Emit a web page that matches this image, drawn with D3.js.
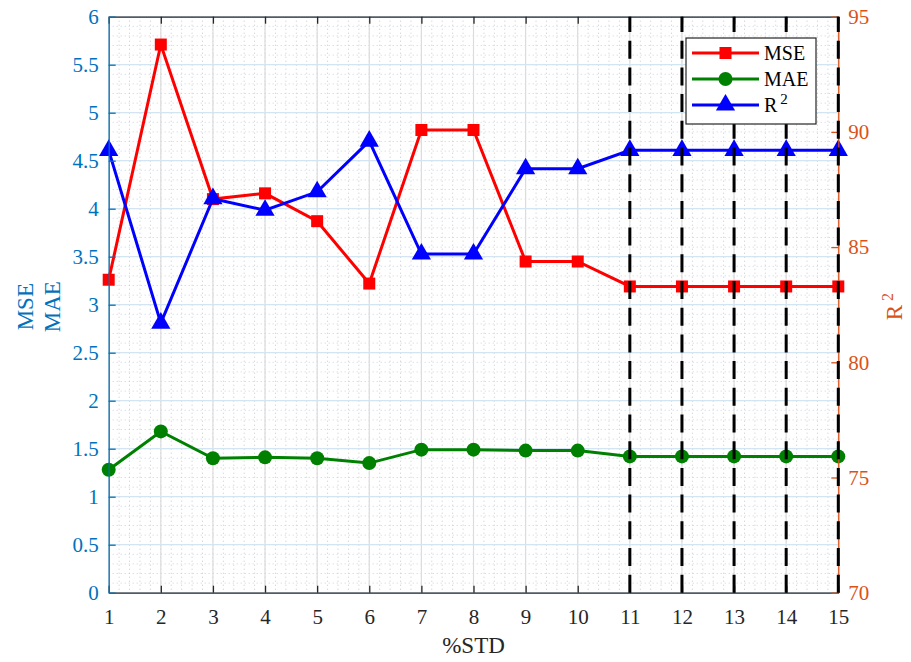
<!DOCTYPE html>
<html>
<head>
<meta charset="utf-8">
<script src="https://cdn.jsdelivr.net/npm/d3@7"></script>
<style>
  body { margin: 0; background: #fff; }
  text { font-family: "Liberation Serif", "Times New Roman", serif; }
</style>
</head>
<body>
<svg id="chart" width="911" height="662"></svg>
<script>
// data
const stdPct = [1, 2, 3, 4, 5, 6, 7, 8, 9, 10, 11, 12, 13, 14, 15];
const mse = [3.26, 5.71, 4.10, 4.16, 3.87, 3.22, 4.82, 4.82, 3.45, 3.45, 3.19, 3.19, 3.19, 3.19, 3.19];
const mae = [1.28, 1.68, 1.40, 1.41, 1.40, 1.35, 1.49, 1.49, 1.48, 1.48, 1.42, 1.42, 1.42, 1.42, 1.42];
const r2 = [89.2, 81.7, 87.1, 86.6, 87.4, 89.6, 84.7, 84.7, 88.4, 88.4, 89.2, 89.2, 89.2, 89.2, 89.2];
const dashedAt = [11, 12, 13, 14, 15];
const leftTicks = [0, 0.5, 1, 1.5, 2, 2.5, 3, 3.5, 4, 4.5, 5, 5.5, 6];
const rightTicks = [70, 75, 80, 85, 90, 95];

const leftColor = "#0072BD";
const rightColor = "#D95319";
const axisColor = "#262626";

const margin = { top: 16.7, right: 72.7, bottom: 69.3, left: 108.7 };
const width = 911 - margin.left - margin.right;
const height = 662 - margin.top - margin.bottom;

const svg = d3.select("#chart");
const g = svg.append("g")
    .attr("transform", "translate(" + margin.left + "," + margin.top + ")");

const x = d3.scaleLinear().domain([1, 15]).range([0, width]);
const yL = d3.scaleLinear().domain([0, 6]).range([height, 0]);
const yR = d3.scaleLinear().domain([70, 95]).range([height, 0]);

// minor grid (dotted)
const minorX = d3.range(1, 15.001, 0.2);
const minorY = d3.range(0, 6.001, 0.1);
g.append("g").selectAll("line")
    .data(minorX)
    .enter().append("line")
    .attr("x1", d => x(d)).attr("x2", d => x(d))
    .attr("y1", 0).attr("y2", height)
    .attr("stroke", "#c8c8c8")
    .attr("stroke-width", 1)
    .attr("stroke-dasharray", "1,3");
g.append("g").selectAll("line")
    .data(minorY)
    .enter().append("line")
    .attr("x1", 0).attr("x2", width)
    .attr("y1", d => yL(d)).attr("y2", d => yL(d))
    .attr("stroke", "#bcd6ec")
    .attr("stroke-width", 1)
    .attr("stroke-dasharray", "1,3");

// major grid
g.append("g").selectAll("line")
    .data(stdPct)
    .enter().append("line")
    .attr("x1", d => x(d)).attr("x2", d => x(d))
    .attr("y1", 0).attr("y2", height)
    .attr("stroke", "#dcdcdc")
    .attr("stroke-width", 1.2);
g.append("g").selectAll("line")
    .data(leftTicks)
    .enter().append("line")
    .attr("x1", 0).attr("x2", width)
    .attr("y1", d => yL(d)).attr("y2", d => yL(d))
    .attr("stroke", "#d3e5f3")
    .attr("stroke-width", 1.2);

// series lines + markers
const lineL = d3.line().x((d, i) => x(stdPct[i])).y(d => yL(d));
const lineR = d3.line().x((d, i) => x(stdPct[i])).y(d => yR(d));

g.append("path").datum(mse)
    .attr("d", lineL).attr("fill", "none")
    .attr("stroke", "#ff0000").attr("stroke-width", 3);
g.append("g").selectAll("rect")
    .data(mse)
    .enter().append("rect")
    .attr("x", (d, i) => x(stdPct[i]) - 6)
    .attr("y", d => yL(d) - 6)
    .attr("width", 12).attr("height", 12)
    .attr("fill", "#ff0000");

g.append("path").datum(mae)
    .attr("d", lineL).attr("fill", "none")
    .attr("stroke", "#008000").attr("stroke-width", 3);
g.append("g").selectAll("circle")
    .data(mae)
    .enter().append("circle")
    .attr("cx", (d, i) => x(stdPct[i]))
    .attr("cy", d => yL(d))
    .attr("r", 7)
    .attr("fill", "#008000");

const tri = d3.symbol().type(d3.symbolTriangle).size(160);
g.append("path").datum(r2)
    .attr("d", lineR).attr("fill", "none")
    .attr("stroke", "#0000ff").attr("stroke-width", 3);
g.append("g").selectAll("path")
    .data(r2)
    .enter().append("path")
    .attr("d", tri)
    .attr("transform", (d, i) => "translate(" + x(stdPct[i]) + "," + yR(d) + ")")
    .attr("fill", "#0000ff");

// axes
const xAxis = g.append("g")
    .attr("transform", "translate(0," + height + ")")
    .call(d3.axisBottom(x).tickValues(stdPct).tickSize(-7).tickPadding(16).tickSizeOuter(0));
xAxis.select(".domain").attr("stroke", axisColor).attr("stroke-width", 1.3);
xAxis.selectAll(".tick line").attr("stroke", axisColor).attr("stroke-width", 1.3);
xAxis.selectAll("text").attr("fill", axisColor).style("font-size", "21px")
    .style("font-family", "Liberation Serif");

const xTop = g.append("g")
    .call(d3.axisTop(x).tickValues(stdPct).tickSize(-7).tickFormat("").tickSizeOuter(0));
xTop.select(".domain").attr("stroke", axisColor).attr("stroke-width", 1.3);
xTop.selectAll(".tick line").attr("stroke", axisColor).attr("stroke-width", 1.3);

const leftAxis = g.append("g")
    .call(d3.axisLeft(yL).tickValues(leftTicks).tickFormat(d3.format("~g"))
        .tickSize(-7).tickPadding(10).tickSizeOuter(0));
leftAxis.select(".domain").attr("stroke", leftColor).attr("stroke-width", 1.3);
leftAxis.selectAll(".tick line").attr("stroke", leftColor).attr("stroke-width", 1.3);
leftAxis.selectAll("text").attr("fill", leftColor).style("font-size", "21px")
    .style("font-family", "Liberation Serif");

const rightAxis = g.append("g")
    .attr("transform", "translate(" + width + ",0)")
    .call(d3.axisRight(yR).tickValues(rightTicks).tickSize(-7).tickPadding(10).tickSizeOuter(0));
rightAxis.select(".domain").attr("stroke", rightColor).attr("stroke-width", 1.3);
rightAxis.selectAll(".tick line").attr("stroke", rightColor).attr("stroke-width", 1.3);
rightAxis.selectAll("text").attr("fill", rightColor).style("font-size", "21px")
    .style("font-family", "Liberation Serif");

// dashed vertical markers (drawn over data and axes)
g.append("g").selectAll("line")
    .data(dashedAt)
    .enter().append("line")
    .attr("x1", d => x(d)).attr("x2", d => x(d))
    .attr("y1", height).attr("y2", 0)
    .attr("stroke", "#000")
    .attr("stroke-width", 3)
    .attr("stroke-dasharray", "18,8.7");

// axis labels
g.append("text")
    .attr("x", width / 2).attr("y", height + 60)
    .attr("text-anchor", "middle")
    .attr("fill", axisColor)
    .style("font-size", "23px")
    .text("%STD");

const yLabel = g.append("text")
    .attr("transform", "translate(-76," + (height / 2 + 2) + ") rotate(-90)")
    .attr("text-anchor", "middle")
    .attr("fill", leftColor)
    .style("font-size", "23px");
yLabel.append("tspan").attr("x", 0).attr("dy", 0).text("MSE");
yLabel.append("tspan").attr("x", 0).attr("dy", 27).text("MAE");

const r2Label = g.append("text")
    .attr("transform", "translate(" + (width + 64) + "," + (height / 2 + 2) + ") rotate(-90)")
    .attr("text-anchor", "middle")
    .attr("fill", rightColor)
    .style("font-size", "23px");
r2Label.append("tspan").text("R");
r2Label.append("tspan").attr("dx", 4).attr("dy", -9).style("font-size", "16px").text("2");

// legend
const legendItems = ["MSE", "MAE", "R2"];
const legendColors = ["#ff0000", "#008000", "#0000ff"];
const legend = svg.append("g").attr("transform", "translate(686,38)");
legend.append("rect")
    .attr("width", 130).attr("height", 86)
    .attr("fill", "#fff")
    .attr("stroke", axisColor)
    .attr("stroke-width", 1.2);
const rows = legend.selectAll(".row")
    .data(legendItems)
    .enter().append("g")
    .attr("class", "row")
    .attr("transform", (d, i) => "translate(0," + (15 + i * 26) + ")");
rows.append("line")
    .attr("x1", 6).attr("x2", 73)
    .attr("stroke", (d, i) => legendColors[i])
    .attr("stroke-width", 3);
rows.each(function (d, i) {
    const r = d3.select(this);
    if (i === 0) {
        r.append("rect").attr("x", 33.5).attr("y", -6).attr("width", 12).attr("height", 12)
            .attr("fill", legendColors[i]);
    } else if (i === 1) {
        r.append("circle").attr("cx", 39.5).attr("r", 7).attr("fill", legendColors[i]);
    } else {
        r.append("path").attr("d", tri).attr("transform", "translate(39.5,0)")
            .attr("fill", legendColors[i]);
    }
});
const legendText = rows.append("text")
    .attr("x", 78).attr("y", 7)
    .attr("fill", "#000")
    .style("font-size", "20px");
legendText.filter((d, i) => i < 2).text(d => d);
legendText.filter((d, i) => i === 2).each(function () {
    const t = d3.select(this);
    t.append("tspan").text("R");
    t.append("tspan").attr("dx", 3).attr("dy", -8).style("font-size", "15px").text("2");
});
</script>
</body>
</html>
